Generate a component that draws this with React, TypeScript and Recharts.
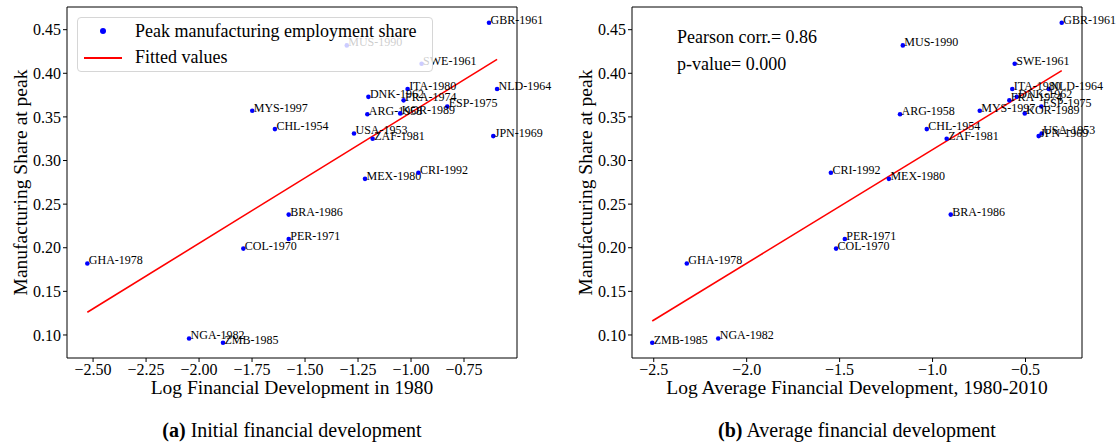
import {Legend, ReferenceLine, Scatter, ScatterChart, XAxis, YAxis} from "recharts";

const countries = ['GBR-1961', 'MUS-1990', 'SWE-1961', 'NLD-1964', 'ITA-1980', 'DNK-1962', 'FRA-1974', 'ESP-1975',
    'ARG-1958', 'KOR-1989', 'USA-1953', 'ZAF-1981', 'JPN-1969', 'MEX-1980', 'CRI-1992', 'MYS-1997', 'CHL-1954',
    'BRA-1986', 'PER-1971', 'COL-1970', 'GHA-1978', 'NGA-1982', 'ZMB-1985'];
const peakShare = [0.458, 0.432, 0.411, 0.382, 0.382, 0.373, 0.369, 0.362, 0.353, 0.354, 0.331, 0.325, 0.328,
    0.279, 0.286, 0.357, 0.336, 0.238, 0.210, 0.199, 0.182, 0.096, 0.091];
const finDev1980 = [-0.632, -1.303, -0.950, -0.594, -1.016, -1.201, -1.035, -0.829, -1.206, -1.051, -1.269, -1.181,
    -0.612, -1.217, -0.965, -1.749, -1.642, -1.577, -1.577, -1.791, -2.527, -2.047, -1.887];
const finDevAvg = [-0.305, -1.160, -0.558, -0.375, -0.571, -0.547, -0.587, -0.415, -1.175, -0.504, -0.413, -0.924,
    -0.429, -1.235, -1.547, -0.746, -1.031, -0.902, -1.472, -1.519, -2.322, -2.153, -2.508];

const fitLeftX = [-2.527, -0.594];
const fitLeftY = [0.126, 0.416];
const fitRightX = [-2.508, -0.305];
const fitRightY = [0.116, 0.403];

const ticksLeftX = [-2.5, -2.25, -2.0, -1.75, -1.5, -1.25, -1.0, -0.75];
const ticksRightX = [-2.5, -2.0, -1.5, -1.0, -0.5];
const ticksY = [0.10, 0.15, 0.20, 0.25, 0.30, 0.35, 0.40, 0.45];

const FONT = '"Liberation Serif", "DejaVu Serif", serif';
const Y_DOMAIN = [0.0736, 0.476];

const toPoints = (xs: number[], ys: number[], names?: string[]) =>
    xs.map((x, i) => ({x, y: ys[i], name: names ? names[i] : ''}));

const fmt = (digits: number) => (v: number) => (v < 0 ? '\u2212' : '') + Math.abs(v).toFixed(digits);

const tickStyle = {fill: '#000', fontSize: 16, fontFamily: FONT};

function PointWithLabel(props: any) {
    const {cx, cy, payload} = props;
    return (
        <g>
            <circle cx={cx} cy={cy} r={2.3} fill="#0000ff"/>
            <text x={cx + 1.5} y={cy + 1} fontSize={12} fontFamily={FONT} fill="#000">{payload.name}</text>
        </g>
    );
}

const yLabel = (props: any) => {
    const vb = props.viewBox;
    const cx = vb.x + 13;
    const cy = vb.y + vb.height / 2;
    return (
        <text x={cx} y={cy} transform={`rotate(-90 ${cx} ${cy})`} textAnchor="middle" dominantBaseline="central"
              fontSize={19.5} fontFamily={FONT} fill="#000">Manufacturing Share at peak</text>
    );
};

function LegendBox() {
    return (
        <div style={{
            border: '1px solid #d6d6d6', borderRadius: 4, background: 'rgba(255,255,255,0.8)',
            fontFamily: FONT, fontSize: 18, color: '#000', height: 55, boxSizing: 'border-box', position: 'relative'
        }}>
            <span style={{position: 'absolute', left: 22, top: 10, width: 6, height: 6, borderRadius: 3, background: '#0000ff'}}/>
            <span style={{position: 'absolute', left: 57, top: 2, lineHeight: '22px'}}>Peak manufacturing employment share</span>
            <span style={{position: 'absolute', left: 6, top: 39, width: 38, height: 1.5, background: '#ff0000'}}/>
            <span style={{position: 'absolute', left: 57, top: 28, lineHeight: '22px'}}>Fitted values</span>
        </div>
    );
}

interface PanelProps {
    xs: number[];
    fitX: number[];
    fitY: number[];
    xDomain: number[];
    xTicks: number[];
    digits: number;
    xLabel: string;
    width: number;
    marginLeft: number;
    marginRight: number;
    withLegend?: boolean;
}

function Panel({xs, fitX, fitY, xDomain, xTicks, digits, xLabel, width, marginLeft, marginRight, withLegend}: PanelProps) {
    return (
        <ScatterChart width={width} height={446} margin={{top: 7, right: marginRight, bottom: 66, left: marginLeft}}
                      style={{fontFamily: FONT}}>
            <XAxis type="number" dataKey="x" domain={xDomain} ticks={xTicks}
                   tickFormatter={fmt(digits)} tick={tickStyle} tickSize={4} height={22}
                   axisLine={{stroke: '#000'}} tickLine={{stroke: '#000'}}
                   label={{value: xLabel, position: 'bottom', offset: 0, fill: '#000', fontSize: 19.5, fontFamily: FONT}}/>
            <YAxis type="number" dataKey="y" domain={Y_DOMAIN} ticks={ticksY}
                   tickFormatter={fmt(2)} tick={tickStyle} tickSize={4} width={60}
                   axisLine={{stroke: '#000'}} tickLine={{stroke: '#000'}} label={{content: yLabel}}/>
            <ReferenceLine x={xDomain[1]} stroke="#000"/>
            <ReferenceLine y={Y_DOMAIN[1]} stroke="#000"/>
            <Scatter data={toPoints(fitX, fitY)} line={{stroke: '#ff0000', strokeWidth: 1.6}} shape={() => <g/>}
                     isAnimationActive={false}/>
            <Scatter data={toPoints(xs, peakShare, countries)} shape={PointWithLabel} isAnimationActive={false}/>
            {withLegend && (
                <Legend layout="vertical" align="center" verticalAlign="middle" content={() => <LegendBox/>}
                        wrapperStyle={{left: 77, top: 17, width: 356, height: 57}}/>
            )}
        </ScatterChart>
    );
}

export default function App() {
    return (
        <div style={{position: 'absolute', left: 0, top: 0, width: 1116, height: 446, background: '#fff', fontFamily: FONT}}>
            <div style={{position: 'absolute', left: 0, top: 0}}>
                <Panel xs={finDev1980} fitX={fitLeftX} fitY={fitLeftY} xDomain={[-2.623, -0.5]} xTicks={ticksLeftX}
                       digits={2} xLabel="Log Financial Development in 1980" width={560} marginLeft={7}
                       marginRight={43} withLegend/>
            </div>
            <div style={{position: 'absolute', left: 560, top: 0}}>
                <Panel xs={finDevAvg} fitX={fitRightX} fitY={fitRightY} xDomain={[-2.617, -0.196]} xTicks={ticksRightX}
                       digits={1} xLabel="Log Average Financial Development, 1980-2010" width={556} marginLeft={12}
                       marginRight={34}/>
            </div>
            <div style={{position: 'absolute', left: 677, top: 26, fontSize: 18, lineHeight: '22px', color: '#000'}}>
                Pearson corr.= 0.86
            </div>
            <div style={{position: 'absolute', left: 677, top: 53, fontSize: 18, lineHeight: '22px', color: '#000'}}>
                p-value= 0.000
            </div>
            <div style={{position: 'absolute', left: 0, width: 584, top: 418, textAlign: 'center', fontSize: 20, lineHeight: '24px'}}>
                <b>(a)</b> Initial financial development
            </div>
            <div style={{position: 'absolute', left: 560, width: 594, top: 418, textAlign: 'center', fontSize: 20, lineHeight: '24px'}}>
                <b>(b)</b> Average financial development
            </div>
        </div>
    );
}
